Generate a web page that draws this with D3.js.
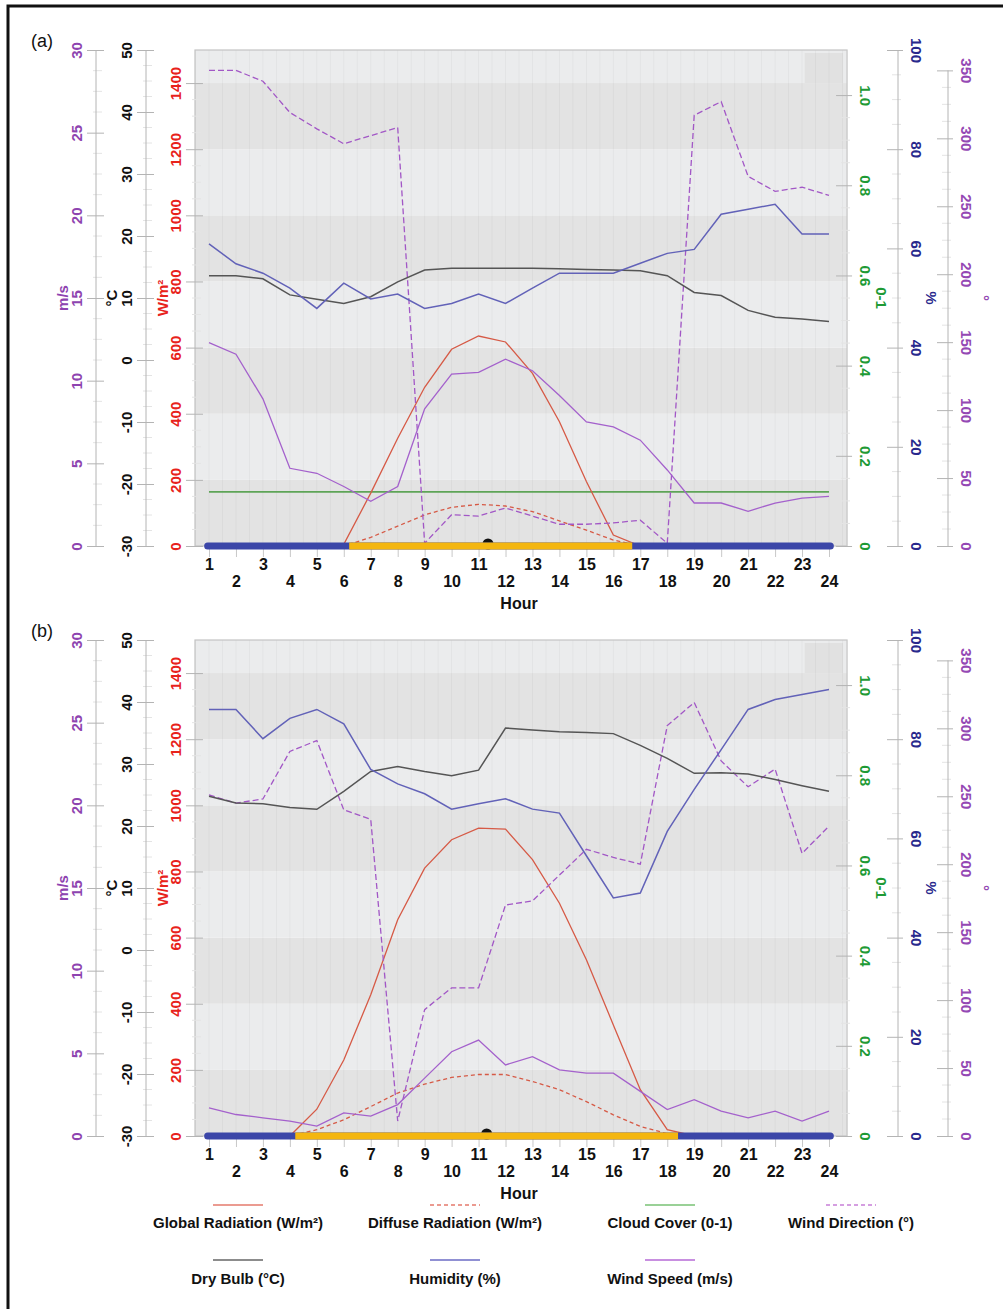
<!DOCTYPE html>
<html>
<head>
<meta charset="utf-8">
<script src="https://cdn.jsdelivr.net/npm/d3@7"></script>
<style>
  body { margin: 0; background: #fff; }
  svg text { font-family: 'Liberation Sans Narrow', 'Arial Narrow', 'Liberation Sans', Arial, sans-serif; font-weight: bold; }
</style>
</head>
<body>
<script>
// hours of the day (x categories)
let hours = [1,2,3,4,5,6,7,8,9,10,11,12,13,14,15,16,17,18,19,20,21,22,23,24];

// panel (a)
let globalRadA = [0,0,0,0,0,5,160,326,480,595,635,617,522,376,195,33,0,0,0,0,0,0,0,0];
let diffuseRadA = [0,0,0,0,0,0,26,60,94,117,126,121,104,76,48,18,0,0,0,0,0,0,0,0];
let cloudA = [0.12,0.12,0.12,0.12,0.12,0.12,0.12,0.12,0.12,0.12,0.12,0.12,0.12,0.12,0.12,0.12,0.12,0.12,0.12,0.12,0.12,0.12,0.12,0.12];
let windDirA = [350,350,342,319,307,296,302,308,2,23,22,28,22,16,16,17,19,2,317,327,272,261,264,258];
let dryBulbA = [13.6,13.6,13.1,10.5,9.8,9.1,10.2,12.6,14.5,14.8,14.8,14.8,14.8,14.7,14.6,14.5,14.4,13.6,10.9,10.4,8.0,6.9,6.6,6.2];
let humidityA = [60.9,56.9,55,52,47.9,53,49.8,50.8,47.9,48.9,50.8,48.9,52,55,55,55,57,59,59.8,66.9,67.9,68.9,62.9,62.9];
let windSpeedA = [12.3,11.6,8.9,4.7,4.4,3.6,2.7,3.6,8.3,10.4,10.5,11.3,10.6,9.1,7.5,7.2,6.4,4.6,2.6,2.6,2.1,2.6,2.9,3.0];
let sunA = [6.2, 16.7, 11.35]; // sunrise, sunset, solar noon

// panel (b)
let globalRadB = [0,0,0,0,81,230,427,654,810,896,931,928,836,704,533,336,140,19,0,0,0,0,0,0];
let diffuseRadB = [0,0,0,0,19,49,89,130,157,177,186,186,165,140,104,64,29,7,0,0,0,0,0,0];
let cloudB = [0,0,0,0,0,0,0,0,0,0,0,0,0,0,0,0,0,0,0,0,0,0,0,0];
let windDirB = [251,245,248,283,291,240,233,11,93,109,109,170,173,192,211,205,200,302,319,276,257,270,208,228];
let dryBulbB = [24.8,23.7,23.6,23.0,22.7,25.6,28.8,29.6,28.8,28.1,29.0,35.8,35.5,35.2,35.1,34.9,33.0,30.9,28.5,28.6,28.4,27.5,26.5,25.6];
let humidityB = [86,86,80.1,84.2,86,83.1,73.9,71,69,65.9,67,68,65.9,65.1,56.5,48,49,61.4,69.9,77.9,86,88,89,90];
let windSpeedB = [1.7,1.3,1.1,0.9,0.6,1.4,1.2,1.9,3.5,5.1,5.8,4.3,4.8,4.0,3.8,3.8,2.7,1.6,2.2,1.5,1.1,1.5,0.9,1.5];
let sunB = [4.2, 18.4, 11.3];

// tick values
let msTicks = [0,5,10,15,20,25,30];
let cTicks = [-30,-20,-10,0,10,20,30,40,50];
let wTicks = [0,200,400,600,800,1000,1200,1400];
let ccTicks = [0,0.2,0.4,0.6,0.8,1.0];
let pctTicks = [0,20,40,60,80,100];
let degTicks = [0,50,100,150,200,250,300,350];

let legendNames = ['Global Radiation (W/m²)', 'Diffuse Radiation (W/m²)', 'Cloud Cover (0-1)', 'Wind Direction (°)',
                   'Dry Bulb (°C)', 'Humidity (%)', 'Wind Speed (m/s)'];

let width = 1003;
let height = 1309;
let plotH = 496;

let col = {
  red: '#d65a46', green: '#5ea457', windDir: '#a257c6', dry: '#555555',
  hum: '#6262b8', windSp: '#a461cc',
  axMs: '#8e44b0', axW: '#e8221b', axCc: '#1e9a35', axPct: '#28288c', axDeg: '#9448b4'
};

let svg = d3.select('body').append('svg')
    .attr('width', width)
    .attr('height', height);

svg.append('rect').attr('width', width).attr('height', height).attr('fill', '#fff');
svg.append('rect')
    .attr('x', 8).attr('y', 6).attr('width', 1010).attr('height', 1320)
    .attr('fill', 'none').attr('stroke', '#111').attr('stroke-width', 3);

let x = d3.scaleLinear().domain([1, 24]).range([209, 829]);
let plotL = x(0.48), plotR = x(24.67);

let panels = [
  {label: '(a)', top: 50, glob: globalRadA, diff: diffuseRadA, cloud: cloudA, wdir: windDirA,
   dry: dryBulbA, hum: humidityA, wsp: windSpeedA, sun: sunA},
  {label: '(b)', top: 640, glob: globalRadB, diff: diffuseRadB, cloud: cloudB, wdir: windDirB,
   dry: dryBulbB, hum: humidityB, wsp: windSpeedB, sun: sunB}
];

panels.forEach(p => drawPanel(p));

function drawPanel(p) {
  let T = p.top, B = T + plotH;
  let yW = d3.scaleLinear().domain([0, 1500]).range([B, T]);
  let yMs = d3.scaleLinear().domain([0, 30]).range([B, T]);
  let yC = d3.scaleLinear().domain([-30, 50]).range([B, T]);
  let yCc = d3.scaleLinear().domain([0, 1.1]).range([B, T]);
  let yPct = d3.scaleLinear().domain([0, 100]).range([B, T]);
  let yDeg = d3.scaleLinear().domain([0, 365]).range([B, T]);

  let g = svg.append('g');

  // background bands every 200 W/m2
  let bandEdges = [0,200,400,600,800,1000,1200,1400,1500];
  g.selectAll('.band')
    .data(d3.pairs(bandEdges))
    .enter().append('rect')
      .attr('x', plotL).attr('width', plotR - plotL)
      .attr('y', d => yW(d[1])).attr('height', d => yW(d[0]) - yW(d[1]))
      .attr('fill', (d, i) => i % 2 === 0 ? '#e3e3e3' : '#ebeced');

  // small darker patch at top right
  g.append('rect')
    .attr('x', x(23.1)).attr('y', T + 3).attr('width', plotR - x(23.1) - 4).attr('height', 30)
    .attr('fill', '#e1e1e1');

  // faint half-hour grid
  let halfHours = d3.range(0.5, 24.6, 0.5);
  g.selectAll('.vg')
    .data(halfHours)
    .enter().append('line')
      .attr('x1', d => x(d)).attr('x2', d => x(d))
      .attr('y1', T).attr('y2', B)
      .attr('stroke', '#000').attr('stroke-opacity', 0.035);

  g.append('rect')
    .attr('x', plotL).attr('y', T).attr('width', plotR - plotL).attr('height', plotH)
    .attr('fill', 'none').attr('stroke', '#c4c4c4').attr('stroke-width', 1.2);

  // x axis
  let xAxis = d3.axisBottom(x).tickValues(hours).tickSize(10).tickPadding(4);
  let xg = g.append('g').attr('transform', `translate(0,${B + 1})`).call(xAxis);
  xg.select('.domain').remove();
  xg.selectAll('.tick line').attr('stroke', '#c8c8c8');
  xg.selectAll('.tick text')
    .attr('font-size', 16).attr('fill', '#111')
    .attr('y', d => d % 2 === 1 ? 12 : 29)
    .attr('dy', '0.71em');
  g.append('text')
    .attr('x', x(12.5)).attr('y', B + 63)
    .attr('text-anchor', 'middle').attr('font-size', 16).attr('fill', '#111')
    .text('Hour');

  // y axes
  yAxisDraw(g, yMs, msTicks, 96, 'left', col.axMs, true, d => d);
  yAxisDraw(g, yC, cTicks, 146, 'left', '#111', true, d => d);
  yAxisDraw(g, yW, wTicks, plotL, 'left', col.axW, false, d => d);
  yAxisDraw(g, yCc, ccTicks, plotR, 'right', col.axCc, false, d => d === 0 ? '0' : d.toFixed(1));
  yAxisDraw(g, yPct, pctTicks, 898, 'right', col.axPct, true, d => d);
  yAxisDraw(g, yDeg, degTicks, 948, 'right', col.axDeg, true, d => d);

  let mid = T + plotH / 2;
  axisTitle(g, 63, mid, -90, 'm/s', col.axMs);
  axisTitle(g, 112, mid, -90, '°C', '#111');
  axisTitle(g, 163, mid, -90, 'W/m²', col.axW);
  axisTitle(g, 881, mid, 90, '0-1', col.axCc);
  axisTitle(g, 931, mid, 90, '%', col.axPct);
  axisTitle(g, 983, mid, 90, '°', col.axDeg);

  g.append('text')
    .attr('x', 31).attr('y', T - 3)
    .attr('font-size', 18)
    .style('font-family', "'Liberation Sans', Arial, sans-serif").style('font-weight', 'normal')
    .attr('fill', '#111')
    .text(p.label);

  // series
  let series = [
    {vals: p.cloud, y: yCc, color: col.green, dash: null, w: 1.6},
    {vals: p.diff, y: yW, color: col.red, dash: '4,3', w: 1.3},
    {vals: p.glob, y: yW, color: col.red, dash: null, w: 1.3},
    {vals: p.wdir, y: yDeg, color: col.windDir, dash: '6,3', w: 1.3},
    {vals: p.dry, y: yC, color: col.dry, dash: null, w: 1.5},
    {vals: p.hum, y: yPct, color: col.hum, dash: null, w: 1.5},
    {vals: p.wsp, y: yMs, color: col.windSp, dash: null, w: 1.3}
  ];
  series.forEach(s => {
    let line = d3.line()
      .x((d, i) => x(hours[i]))
      .y(d => s.y(d));
    g.append('path')
      .datum(s.vals)
      .attr('d', line)
      .attr('fill', 'none')
      .attr('stroke', s.color)
      .attr('stroke-width', s.w)
      .attr('stroke-dasharray', s.dash);
  });

  // day/night bar with solar noon marker
  g.append('circle')
    .attr('cx', x(p.sun[2])).attr('cy', B - 2).attr('r', 5.5)
    .attr('fill', '#111');
  g.append('line')
    .attr('x1', x(0.95)).attr('x2', x(24.05))
    .attr('y1', B).attr('y2', B)
    .attr('stroke', '#3b46a8').attr('stroke-width', 7).attr('stroke-linecap', 'round');
  g.append('line')
    .attr('x1', x(p.sun[0])).attr('x2', x(p.sun[1]))
    .attr('y1', B).attr('y2', B)
    .attr('stroke', '#f4b60f').attr('stroke-width', 7);
}

function yAxisDraw(g, scale, ticks, xPos, side, color, withLine, fmt) {
  let axis = (side === 'left' ? d3.axisLeft(scale) : d3.axisRight(scale))
    .tickValues(ticks).tickSize(0).tickFormat(fmt);
  let ag = g.append('g').attr('transform', `translate(${xPos},0)`).call(axis);
  ag.select('.domain').remove();

  // minor ticks
  let minor = [];
  d3.pairs(ticks).forEach(pr => {
    let step = (pr[1] - pr[0]) / 4;
    for (let k = 1; k < 4; k++) minor.push(pr[0] + step * k);
  });
  ag.selectAll('.minor')
    .data(minor)
    .enter().append('line')
      .attr('x1', side === 'left' ? -3 : -6).attr('x2', side === 'left' ? 6 : 3)
      .attr('y1', d => scale(d)).attr('y2', d => scale(d))
      .attr('stroke', '#e4e4e4');

  if (withLine) {
    ag.append('line')
      .attr('y1', scale(ticks[0])).attr('y2', scale(ticks[ticks.length - 1]))
      .attr('stroke', '#b4b4b4');
  }
  ag.selectAll('.tick').each(function() {
    let t = d3.select(this);
    t.append('line')
      .attr('x1', side === 'left' ? -9 : -11).attr('x2', side === 'left' ? 8 : 5)
      .attr('stroke', '#b4b4b4');
    t.select('text')
      .attr('x', 0).attr('y', 0).attr('dy', '0.35em')
      .attr('text-anchor', 'middle')
      .attr('font-size', 15)
      .attr('fill', color)
      .attr('transform', side === 'left' ? 'translate(-19,0) rotate(-90)' : 'translate(18,0) rotate(90)');
  });
}

function axisTitle(g, xPos, yPos, rot, txt, color) {
  g.append('text')
    .attr('transform', `translate(${xPos},${yPos}) rotate(${rot})`)
    .attr('text-anchor', 'middle').attr('dy', '0.35em')
    .attr('font-size', 15).attr('fill', color)
    .text(txt);
}

// legend
let legendItems = [
  {name: legendNames[0], color: '#e57a6c', dash: null, cx: 238, row: 0},
  {name: legendNames[1], color: '#e57a6c', dash: '4,3', cx: 455, row: 0},
  {name: legendNames[2], color: '#78c275', dash: null, cx: 670, row: 0},
  {name: legendNames[3], color: '#c77fd8', dash: '4,3', cx: 851, row: 0},
  {name: legendNames[4], color: '#666', dash: null, cx: 238, row: 1},
  {name: legendNames[5], color: '#6b6bc4', dash: null, cx: 455, row: 1},
  {name: legendNames[6], color: '#b66ad6', dash: null, cx: 670, row: 1}
];
let lineY = [1205, 1260];
let textY = [1223, 1279];

let lg = svg.append('g').selectAll('.leg')
  .data(legendItems)
  .enter().append('g');
lg.append('line')
  .attr('x1', d => d.cx - 25).attr('x2', d => d.cx + 25)
  .attr('y1', d => lineY[d.row]).attr('y2', d => lineY[d.row])
  .attr('stroke', d => d.color).attr('stroke-width', 1.3)
  .attr('stroke-dasharray', d => d.dash);
lg.append('text')
  .attr('x', d => d.cx).attr('y', d => textY[d.row])
  .attr('dy', '0.35em').attr('text-anchor', 'middle')
  .attr('font-size', 15).attr('fill', '#111')
  .text(d => d.name);
</script>
</body>
</html>
